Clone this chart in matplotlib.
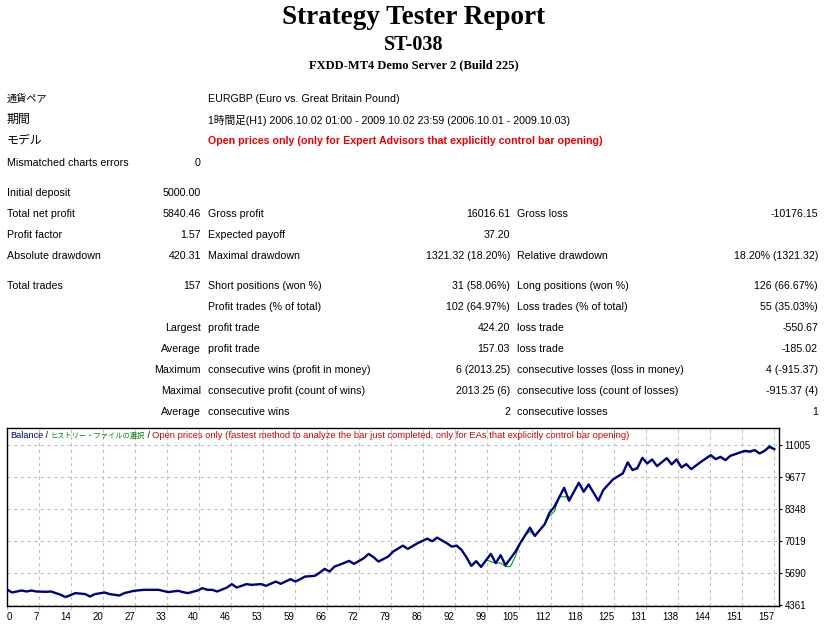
import matplotlib

matplotlib.use("Agg")
import matplotlib.pyplot as plt
import numpy as np

W, H = 829, 626
plt.rcParams["font.family"] = ["Liberation Sans", "Noto Sans CJK JP"]

# balance curve (trade number -> balance)
trade_no = [0, 1, 3, 4, 5, 6, 8, 9, 10, 11, 12, 13, 14, 16, 17, 18, 20, 21, 23, 24,
            26, 28, 31, 33, 35, 36, 37, 39, 40, 41, 42, 43, 45, 46, 47, 49, 50, 52, 53, 55,
            56, 58, 59, 60, 61, 63, 64, 65, 66, 67, 68, 70, 71, 73, 74, 75, 76, 78, 79, 81,
            82, 84, 86, 87, 88, 90, 91, 92, 93, 94, 95, 96, 97, 99, 100, 101, 102, 104, 105, 107,
            108, 110, 111, 112, 114, 115, 117, 118, 119, 121, 122, 124, 126, 127, 128, 129, 130, 131, 132, 133,
            135, 136, 137, 138, 139, 140, 142, 144, 145, 146, 147, 148, 150, 151, 152, 153, 154, 155, 156, 157]
balance = [5000, 4872, 4955, 4913, 4955, 4913, 4901, 4913, 4847, 4776, 4681, 4764, 4847, 4805, 4706, 4805, 4872, 4805, 4747, 4847,
           4942, 4984, 4984, 4888, 4942, 4888, 4847, 4955, 5054, 4984, 4984, 4913, 5079, 5221, 5079, 5221, 5191, 5221, 5150, 5328,
           5233, 5428, 5328, 5428, 5536, 5565, 5702, 5856, 5744, 5951, 6022, 6188, 6063, 6300, 6479, 6342, 6159, 6367, 6574, 6823,
           6686, 6923, 7114, 7006, 7156, 6923, 6782, 6823, 6645, 6342, 5980, 6176, 5939, 6479, 6093, 6425, 6009, 6562, 6923, 7571,
           7226, 7712, 8194, 8443, 9232, 8692, 9440, 9066, 9373, 8692, 9136, 9581, 9830, 10287, 9967, 10062, 10478, 10245, 10411, 10133,
           10465, 10204, 10411, 10079, 10216, 10008, 10312, 10590, 10424, 10519, 10382, 10561, 10702, 10768, 10743, 10797, 10660, 10768, 10934, 10840.46]

# equity (green) where it leaves the balance line
equity_trades = [
    [97, 98, 100, 101, 102, 103, 104, 105],
    [106, 107, 108],
    [110, 111, 112, 113, 115],
    [127, 128, 129, 130],
    [150, 151, 152, 153],
    [155, 156, 157],
]
equity_values = [
    [5939, 6230, 6093, 6105, 5951, 5951, 6367, 6923],
    [7250, 7420, 7226],
    [7712, 8050, 8250, 8858, 8858],
    [10287, 9967, 10000, 10478],
    [10702, 10740, 10700, 10797],
    [10768, 11005, 10840],
]

y_ticks = [4361, 5690, 7019, 8348, 9677, 11005]
x_tick_labels = [0, 7, 14, 20, 27, 33, 40, 46, 53, 59, 66, 72, 79, 86, 92, 99, 105,
                 112, 118, 125, 131, 138, 144, 151, 157]

header_labels = ["通貨ペア", "期間", "モデル", "Mismatched charts errors"]
header_values = ["EURGBP (Euro vs. Great Britain Pound)",
                 "1時間足(H1) 2006.10.02 01:00 - 2009.10.02 23:59 (2006.10.01 - 2009.10.03)",
                 "Open prices only (only for Expert Advisors that explicitly control bar opening)",
                 "0"]

stats = [
    ("Initial deposit", "5000.00", "", "", "", ""),
    ("Total net profit", "5840.46", "Gross profit", "16016.61", "Gross loss", "-10176.15"),
    ("Profit factor", "1.57", "Expected payoff", "37.20", "", ""),
    ("Absolute drawdown", "420.31", "Maximal drawdown", "1321.32 (18.20%)", "Relative drawdown", "18.20% (1321.32)"),
    ("Total trades", "157", "Short positions (won %)", "31 (58.06%)", "Long positions (won %)", "126 (66.67%)"),
    ("", "", "Profit trades (% of total)", "102 (64.97%)", "Loss trades (% of total)", "55 (35.03%)"),
    ("", "Largest", "profit trade", "424.20", "loss trade", "-550.67"),
    ("", "Average", "profit trade", "157.03", "loss trade", "-185.02"),
    ("", "Maximum", "consecutive wins (profit in money)", "6 (2013.25)", "consecutive losses (loss in money)", "4 (-915.37)"),
    ("", "Maximal", "consecutive profit (count of wins)", "2013.25 (6)", "consecutive loss (count of losses)", "-915.37 (4)"),
    ("", "Average", "consecutive wins", "2", "consecutive losses", "1"),
]

legend_parts = [("Balance", "#000080"), (" / ", "black"), ("ヒストリー・ファイルの選択", "#008000"), (" / ", "black"),
                ("Open prices only (fastest method to analyze the bar just completed, only for EAs that explicitly control bar opening)",
                 "#d00000")]
legend_sizes = [6.6, 6.6, 5.2, 6.6, 6.75]

fig = plt.figure(figsize=(W / 100, H / 100), dpi=100)
fig.patch.set_facecolor("white")


def px(x, y):
    return x / W, 1 - y / H


def put(x, y, s, ha="left", size=7.7, **kw):
    fig.text(*px(x, y), s, ha=ha, va="center", fontsize=size, **kw)


# title block
put(414, 18, "Strategy Tester Report", ha="center", size=19.5, family="Liberation Serif", weight="bold")
put(414, 45, "ST-038", ha="center", size=14.5, family="Liberation Serif", weight="bold")
put(414, 65, "FXDD-MT4 Demo Server 2 (Build 225)", ha="center", size=9, family="Liberation Serif", weight="bold")

header_y = [99, 120, 141, 163]
header_sizes = [7.3, 8.6, 8.6, 7.7]
for y, label, value, size in zip(header_y, header_labels, header_values, header_sizes):
    put(7, y, label, size=size)
put(208, header_y[0], header_values[0])
put(208, header_y[1], header_values[1])
put(208, header_y[2], header_values[2], color="#ee0000", weight="bold")
put(201, header_y[3], header_values[3], ha="right")

stats_y = [193, 214, 235, 256, 286, 307, 328, 349, 370, 391, 412]
col_x = [7, 201, 208, 510, 517, 818]
col_ha = ["left", "right", "left", "right", "left", "right"]
for y, row in zip(stats_y, stats):
    for x, ha, cell in zip(col_x, col_ha, row):
        if cell:
            put(x, y, cell, ha=ha)

# balance chart
left, right, top, bottom = 7, 779, 428, 606
ax = fig.add_axes([left / W, 1 - bottom / H, (right - left) / W, (bottom - top) / H])
ax.set_xlim(0, 157.96)
ax.set_ylim(4310, 11720)
for xs, ys in zip(equity_trades, equity_values):
    ax.plot(xs, ys, color="#00a000", linewidth=0.8, zorder=2)
ax.plot(trade_no, balance, color="#000080", linewidth=1.7, zorder=3)

x_pos = np.linspace(0, 157, len(x_tick_labels))
ax.set_xticks(x_pos)
ax.set_xticklabels([str(v) for v in x_tick_labels], fontsize=7)
for i, lab in enumerate(ax.get_xticklabels()):
    lab.set_ha("left" if i == 0 else "right")
ax.set_yticks(y_ticks)
ax.set_yticklabels([str(v) for v in y_ticks], fontsize=7)
ax.yaxis.tick_right()
ax.tick_params(axis="y", length=2.5, width=0.8, pad=1.5, direction="out", color="black")
ax.tick_params(axis="x", length=3, width=0.8, pad=1, direction="out", color="#c8c8c8")
ax.grid(True, color="#c0c0c0", linestyle=(0, (3, 3)), linewidth=0.8)
for spine in ax.spines.values():
    spine.set_linewidth(1.0)
    spine.set_color("black")

# coloured caption inside the chart, drawn piece by piece
renderer = fig.canvas.get_renderer()
cursor = 10
for (text, color), size in zip(legend_parts, legend_sizes):
    t = fig.text(*px(cursor, 436), text, ha="left", va="center", fontsize=size, color=color)
    cursor += t.get_window_extent(renderer).width

fig.savefig("out.png", dpi=100, facecolor="white")
